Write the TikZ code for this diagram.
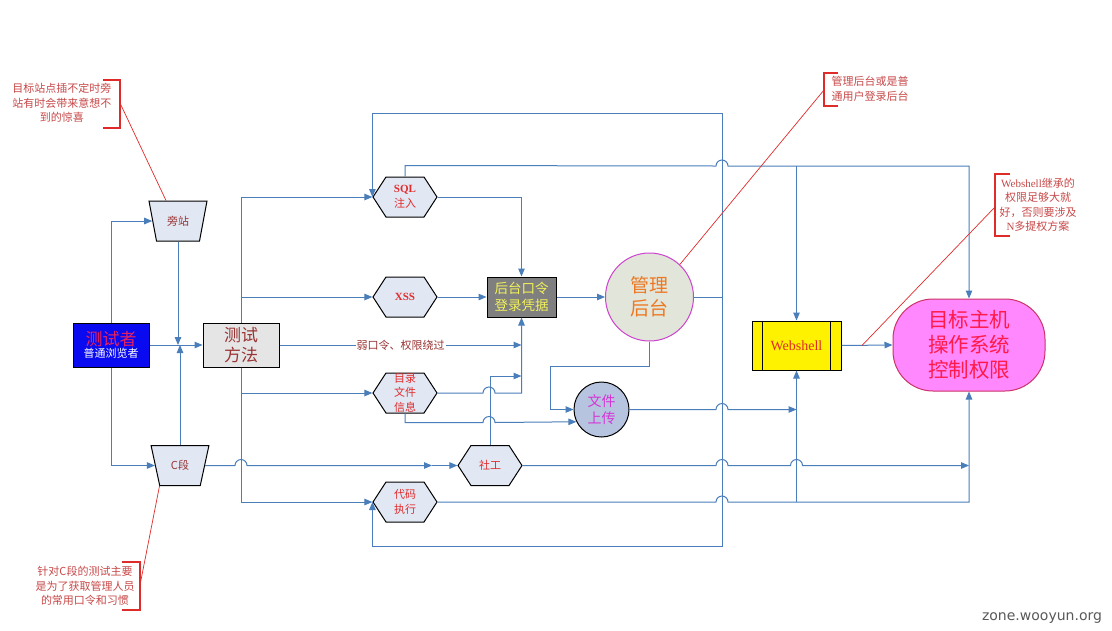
\documentclass[tikz,border=0pt]{standalone}
\usepackage{fontspec}
\setmainfont{Noto Sans CJK SC}
\newfontfamily\tms{Liberation Serif}
\newfontfamily\dvs{DejaVu Sans}
\usetikzlibrary{arrows.meta,shapes.geometric,shapes.symbols}
\definecolor{wyline}{HTML}{4A7EBB}
\definecolor{wyfill}{HTML}{E1E8F4}
\definecolor{wynote}{HTML}{C84848}
\definecolor{wyred}{HTML}{E02B2B}
\definecolor{wybrown}{HTML}{993333}
\definecolor{wyblue}{HTML}{0A0AF0}
\definecolor{wyrose}{HTML}{E8215F}
\definecolor{wygray}{HTML}{7F7F7F}
\definecolor{wyyellow}{HTML}{F2F25A}
\definecolor{wysage}{HTML}{E2E6DA}
\definecolor{wyviolet}{HTML}{CC44CC}
\definecolor{wyorange}{HTML}{EE7722}
\definecolor{wysteel}{HTML}{B6C4E0}
\definecolor{wymagenta}{HTML}{D633D6}
\definecolor{wypink}{HTML}{FF88FF}
\definecolor{wycrimson}{HTML}{CC3366}
\definecolor{wyhost}{HTML}{FF1A4A}
\newcommand\hop[2]{-- ({#1-6},#2) arc[start angle=180,end angle=0,radius=6pt]}
\tikzset{
  hexbox/.style={signal, signal to=west and east, signal pointer angle=114,
    draw=black, fill=wyfill, minimum width=64pt, minimum height=40pt,
    inner sep=0pt, text=wyred, font=\fontsize{11}{14.5}\selectfont, align=center},
  trapbox/.style={trapezium, trapezium angle=69.4, trapezium stretches=true,
    shape border rotate=180, draw=black, fill=wyfill, minimum width=58pt,
    minimum height=40pt, inner sep=0pt, text=wybrown, font=\fontsize{11}{13}\selectfont},
  notetext/.style={text=wynote, font=\fontsize{11}{14.5}\selectfont,
    align=center, inner sep=0pt},
  noteline/.style={draw=wyred, line width=0.7pt},
  bracket/.style={draw=wyred, line width=1.2pt},
}
\begin{document}
\begin{tikzpicture}[x=1pt, y=-1pt, line width=1pt,
    >={Triangle[length=8pt,width=6.5pt]}]
  \useasboundingbox[fill=white] (0,0) rectangle (1112,630);

  % nodes
  \node[draw=black, fill=wyblue, minimum width=76pt, minimum height=44pt,
        inner sep=0pt, align=center] (tester) at (111,345)
       {{\fontsize{17}{18}\selectfont\color{wyrose}测试者}\\
        {\fontsize{11}{13}\selectfont\color{white}普通浏览者}};
  \node[draw=black, fill=black!10, minimum width=76pt, minimum height=44pt,
        inner sep=0pt, align=center, text=wybrown,
        font=\fontsize{17}{20}\selectfont] (method) at (241,345) {测试\\方法};
  \node[trapbox] (pz) at (178,221) {旁站};
  \node[trapbox] (cd) at (180,465.5) {C段};
  \node[hexbox] (sql)  at (405,197) {{\tms\bfseries SQL}\\注入};
  \node[hexbox] (xss)  at (405,297) {\tms\bfseries XSS};
  \node[hexbox] (dir)  at (405,393) {目录\\文件\\信息};
  \node[hexbox] (sg)   at (490,465.5) {社工};
  \node[hexbox] (code) at (405,502) {代码\\执行};
  \node[draw=black, fill=wygray, minimum width=69pt, minimum height=40pt,
        inner sep=0pt, align=center, text=wyyellow,
        font=\fontsize{13.5}{17}\selectfont] (cred) at (521.5,297) {后台口令\\登录凭据};
  \node[circle, draw=wyviolet, fill=wysage, minimum size=88pt, inner sep=0pt,
        align=center, text=wyorange, font=\fontsize{19}{23}\selectfont]
       (admin) at (649.5,297) {管理\\后台};
  \node[circle, draw=black, fill=wysteel, minimum size=55pt, inner sep=0pt,
        align=center, text=wymagenta, font=\fontsize{14}{17}\selectfont]
       (upload) at (601.5,409.5) {文件\\上传};
  \node[draw=black, fill=yellow, minimum width=89pt, minimum height=49pt,
        inner sep=0pt, text=wyred, font=\tms\fontsize{14}{16}\selectfont]
       (ws) at (796.5,345.5) {Webshell};
  \draw ([xshift=11pt]ws.north west) -- ([xshift=11pt]ws.south west);
  \draw ([xshift=-11pt]ws.north east) -- ([xshift=-11pt]ws.south east);
  \node[draw=wycrimson, fill=wypink, rounded corners=40pt, minimum width=152pt,
        minimum height=92pt, inner sep=0pt, align=center, text=wyhost,
        font=\fontsize{20.5}{25}\selectfont] (host) at (969,345)
       {目标主机\\操作系统\\控制权限};

  % join points
  \coordinate (sgin) at (521.5,376);
  \coordinate (upL)  at (550,366);
  \coordinate (topR) at (722,113);
  \coordinate (botR) at (722,546);
  \coordinate (wsT)  at (796.5,166);
  \coordinate (cdA)  at (432,465.5);

  \begin{scope}[draw=wyline]
    % tester and side sites
    \draw[->] (tester.north) |- (pz.west);
    \draw[->] (tester.south) |- (cd.west);
    \draw[->] (tester.east) -- (method.west);
    \draw[->] (pz.south) -- (pz.south |- tester.east);
    \draw[->] (cd.north) -- (cd.north |- tester.east);
    \draw[->] (cd.east) \hop{241}{465.5} -- (cdA);
    \draw[->] (cdA) -- (sg.west);

    % test methods
    \draw[->] (method.north) |- (sql.west);
    \draw[->] (method.north) |- (xss.west);
    \draw[->] (method.south) |- (dir.west);
    \draw[->] (method.south) |- (code.west);
    \draw[->] (method.east) -- node[fill=white, inner sep=1pt, text=wybrown,
        font=\fontsize{11}{13}\selectfont] {弱口令、权限绕过} (cred.south |- method.east);

    % towards the credentials
    \draw[->] (sql.east) -| (cred.north);
    \draw[->] (xss.east) -- (cred.west);
    \draw[->] (dir.east) \hop{489}{393} -| (cred.south);
    \draw[->] (sg.north) |- (sgin);
    \draw[->] (dir.south) -- (405,422.5) \hop{489}{422.5} -- (upload.206);

    % admin panel
    \draw[->] (cred.east) -- (admin.west);
    \draw[->] (admin.south) |- (upL) |- (upload.west);
    \draw[->] (admin.east) -| (topR) -| (sql.west);
    \draw[->] (admin.east) -| (botR) -| (code.west);

    % towards webshell and host
    \draw[->] (sql.north) -- ++(0,-11) \hop{722}{166} -| (host.north);
    \draw[->] (wsT) -- (ws.north);
    \draw[->] (upload.east) \hop{722}{409.5} -- (ws.south |- upload.east);
    \draw[->] (code.east) \hop{722}{502} -| (host.south);
    \draw[->] (ws.south |- code.east) -- (ws.south);
    \draw[->] (sg.east) \hop{722}{465.5} \hop{796.5}{465.5} -- (host.south |- sg.east);
    \draw[->] (ws.east) -- (host.west);
  \end{scope}

  % notes
  \node[notetext] (n1) at (62,103) {目标站点插不定时旁\\站有时会带来意想不\\到的惊喜};
  \draw[bracket] (103,80) -- (120,80) -- (120,128) -- (103,128);
  \draw[noteline] (120,103) -- ([xshift=-12pt]pz.north);

  \node[notetext] (n2) at (85,586) {针对C段的测试主要\\是为了获取管理人员\\的常用口令和习惯};
  \draw[bracket] (122,562) -- (140,562) -- (140,610) -- (122,610);
  \draw[noteline] (140,585) -- (cd.south west);

  \node[notetext] (n3) at (870,89) {管理后台或是普\\通用户登录后台};
  \draw[bracket] (838,73) -- (824,73) -- (824,106) -- (838,106);
  \draw[noteline] (824,90) -- (admin.47);

  \node[notetext] (n4) at (1038,205) {{\tms Webshell}继承的\\权限足够大就\\好，否则要涉及\\{\tms N}多提权方案};
  \draw[bracket] (1010,174) -- (995,174) -- (995,236) -- (1010,236);
  \draw[noteline] (995,207) -- (862,345.5);

  \node[text=black!65, font=\dvs\fontsize{14}{16}\selectfont] (mark) at (1042,618) {zone.wooyun.org};
\end{tikzpicture}
\end{document}
